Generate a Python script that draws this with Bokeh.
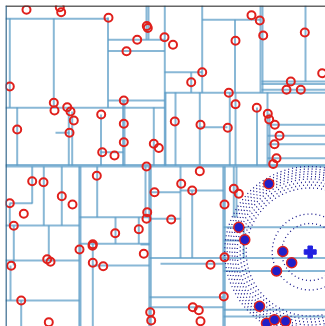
from bokeh.plotting import figure
from bokeh.models import Range1d, Span
from bokeh.embed import file_html
from bokeh.resources import INLINE

# ---- data (screen-like coordinates) ----
red_x = [26, 59.3, 60.7, 108, 146.3, 147.3, 136.7, 164, 126, 9.3, 123.3, 53.3, 54, 66.7, 70, 73.3, 100.7, 16.7, 69, 123.3, 123.3, 153.3, 158.3, 101.7, 114, 146,
         251, 259.3, 262.7, 235, 304.3, 172.5, 321.7, 201.7, 190.7, 290.3, 286, 300.3, 228.3, 235, 256.3, 174.3, 200, 227.3, 267.3, 268.7, 274.3, 279, 274, 276, 272.7,
         96.3, 31.7, 43, 154, 61.3, 72, 9.3, 23.3, 146.7, 146, 13.3, 114.7, 138.3, 92.3, 92, 79, 143.3, 46.7, 50, 10.7, 92.3, 102.7, 20.7, 48.3, 149.7, 150.7,
         199.3, 180.7, 191.7, 233.3, 238.3, 224, 170.7, 224, 210, 223.3, 192.3, 198.3, 200]
red_y = [9.3, 6.7, 11.7, 17.3, 25.5, 27.5, 39.3, 36.7, 50.7, 86, 100, 102.3, 110, 106.7, 111, 120, 114, 129, 132.3, 123.3, 141.7, 143.3, 147.5, 151.7, 155, 166,
         14.7, 20, 35, 40.3, 32, 44.3, 72.7, 71.7, 81.7, 81, 89.3, 89.3, 92.3, 103.7, 107.3, 121, 124.3, 127.3, 113.3, 119, 124.3, 135.3, 143.7, 157.7, 163.5,
         175.3, 180.7, 181.7, 191.7, 195.7, 204, 202.7, 213.3, 211.7, 218.3, 225.3, 232.7, 228.7, 243.7, 245.3, 249, 253.3, 258.7, 261.3, 265.3, 262.3, 265.7, 300, 321.7, 311.7, 320,
         170.7, 183.3, 190, 188.3, 193.3, 204, 219, 256.7, 264.3, 296, 306.7, 309.7, 320.7]

nn_x = [268.3, 238.3, 244.3, 282.3, 291.2, 276, 259, 266, 274, 285]
nn_y = [183.3, 226.7, 239.3, 251, 262.3, 270.5, 305.7, 322.7, 319.3, 320.7]

query_x = [309.7]
query_y = [251.5]
search_radii = [28.5, 38, 64, 67, 70, 73, 75.5, 78, 80.5, 83, 85.5]

# tree node edges: horizontal (y, x0, x1) and vertical (x, y0, y1)
h_y  = [18.3, 39.3, 50.5, 100, 107.3, 132.3, 151.7, 164.5, 166,
        19.3, 71.7, 81, 83.5, 89.3, 92.3, 126.7, 124.3, 135.3, 143.7, 157.7,
        202.7, 225, 260, 300, 216.7, 243.3, 265, 244, 296.7,
        191.7, 190, 218.3, 257.4, 263.3, 306.7, 226.7, 240, 270.5, 309.3, 316]
h_x0 = [5, 107.5, 107.5, 107.5, 5, 55, 100, 5, 5,
        201.7, 164, 261, 261, 261, 164, 200, 267, 267, 267, 267,
        9, 5, 5, 5, 79, 79, 92, 140, 149,
        149, 180, 149, 149, 160, 149, 223, 223, 223, 223, 223]
h_x1 = [108, 164.3, 164.3, 164.3, 164.3, 69, 123, 325, 325,
        260, 201.7, 325, 325, 325, 325, 227, 325, 325, 325, 325,
        32, 79, 79, 79, 149, 149, 149, 149, 223,
        180, 223, 180, 325, 223, 223, 325, 244, 325, 325, 325]

v_x  = [9.3, 53.3, 107.5, 146, 148, 16.7, 68.3, 71.7, 100.5, 122.6, 124, 153.3, 164.3,
        201.7, 190.7, 234.5, 260, 262, 305, 165, 175, 199.3, 229.3, 235, 256.5, 267, 269,
        31.7, 43.3, 61.3, 9.3, 13.3, 48.3, 10, 20.7, 78.8, 80, 96.7, 115, 138.3, 145, 148.8, 150.3, 92.3,
        180, 191.7, 222.8, 224.3, 233.3, 236, 243.3]
v_y0 = [18, 18, 17, 5, 5, 107, 107, 111, 114, 100, 100, 107, 5,
        5, 71.7, 19.3, 5, 5, 5, 92, 92, 92, 92, 92, 107, 92, 113,
        166, 166, 166, 203, 225, 225, 265, 300, 166, 166, 166, 216.7, 216.7, 166, 166, 166, 243,
        166, 190, 166, 166, 166, 166, 226.7]
v_y1 = [107.3, 107.3, 107.3, 39.3, 39.3, 165, 165, 165, 165, 165, 165, 165, 165,
        92.3, 92.3, 92.3, 92.3, 92.3, 81, 165, 165, 165, 165, 165, 165, 165, 165,
        203, 225, 225, 225, 265, 260, 300, 326, 326, 326, 216.7, 243.3, 243.3, 216.7, 326, 326, 326,
        257.4, 257.4, 326, 326, 217, 217, 257.4]

# ---- figure ----
p = figure(width=325, height=326, output_backend="svg", toolbar_location=None,
           x_range=Range1d(5, 325), y_range=Range1d(326, 5),
           x_axis_location=None, y_axis_location=None,
           min_border_left=5, min_border_top=5, min_border_right=0, min_border_bottom=0)
p.grid.visible = False
p.outline_line_color = None
p.background_fill_color = "white"

line_col = "#5b9cc6"
p.segment(x0=h_x0, y0=h_y, x1=h_x1, y1=h_y, line_color=line_col, line_width=2, line_alpha=0.72)
p.segment(x0=v_x, y0=v_y0, x1=v_x, y1=v_y1, line_color=line_col, line_width=2, line_alpha=0.72)

p.add_layout(Span(location=5.5, dimension="width", line_color="#333333", line_width=1.5))
p.add_layout(Span(location=5.5, dimension="height", line_color="#2a5f86", line_width=1.5))

p.circle(x=query_x * len(search_radii), y=query_y * len(search_radii), radius=search_radii,
         fill_color=None, line_color="#1a1a8c", line_width=1.3, line_dash="1 3")

p.scatter(x=red_x, y=red_y, size=8, fill_color=None, line_color="#e0201c", line_width=2)
p.scatter(x=nn_x, y=nn_y, size=10, fill_color="#2020c8", line_color="#e0201c", line_width=1.5)
p.scatter(x=query_x, y=query_y, marker="plus", size=12, fill_color="#2020e0", line_color="#2020e0", line_width=1)

open("out.html", "w").write(file_html(p, INLINE))
